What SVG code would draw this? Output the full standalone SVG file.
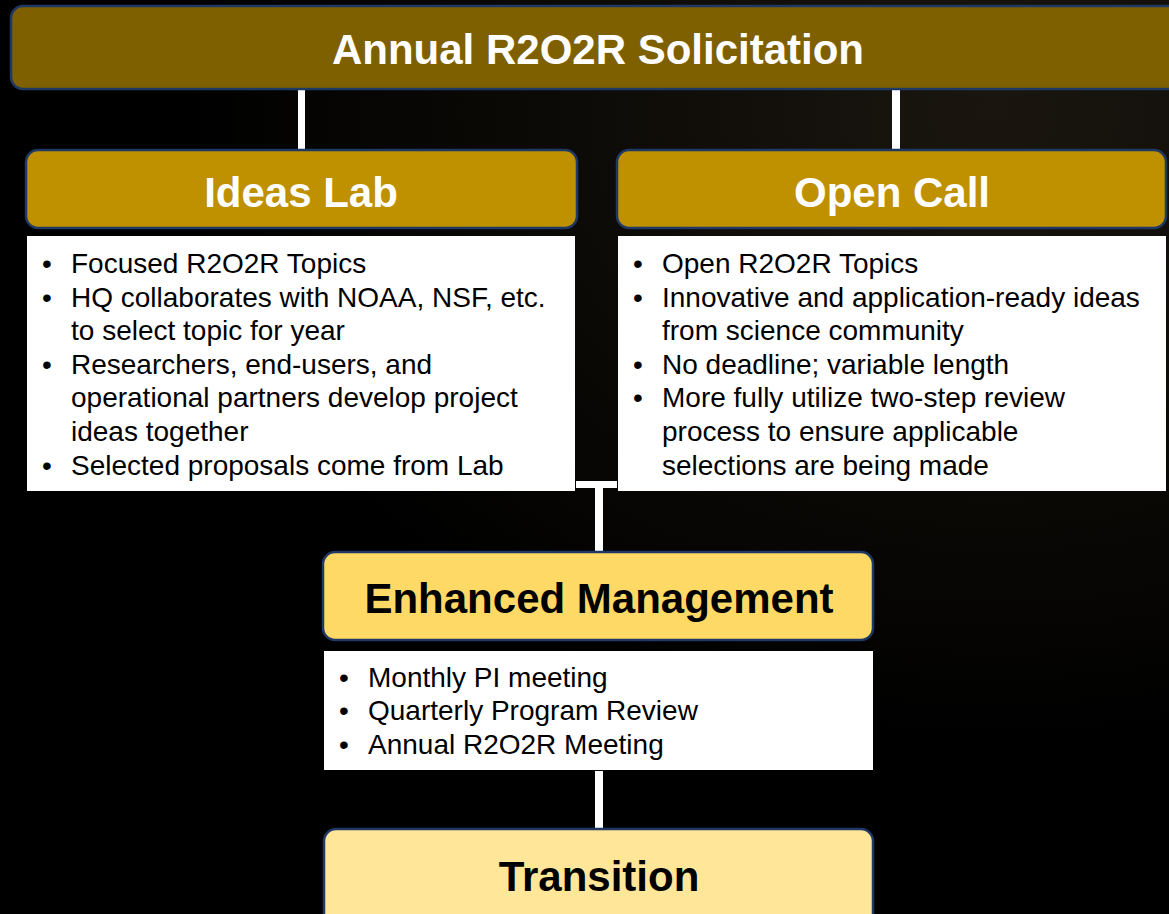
<svg xmlns="http://www.w3.org/2000/svg" width="1169" height="914" viewBox="0 0 1169 914">
<defs>
<radialGradient id="bg" cx="0.85" cy="0.12" r="0.7">
<stop offset="0" stop-color="#1a160f"/>
<stop offset="1" stop-color="#000000"/>
</radialGradient>
<style>
.box{stroke:#1f3864;stroke-width:2.5}
.h{font-family:"Liberation Sans",Arial,sans-serif;font-weight:bold;font-size:42px;text-anchor:middle}
.w{fill:#ffffff}
.k{fill:#000000}
.panel{fill:#ffffff}
.b{font-family:"Liberation Sans",Arial,sans-serif;font-size:28px;fill:#000000}
.con{fill:#ffffff}
</style>
</defs>
<rect x="0" y="0" width="1169" height="914" fill="url(#bg)"/>
<g id="connectors">
<rect class="con" x="298" y="90" width="7" height="59"/>
<rect class="con" x="892" y="90" width="8" height="59"/>
<rect class="con" x="576" y="481" width="41" height="7"/>
<rect class="con" x="595" y="481" width="8" height="71"/>
<rect class="con" x="595" y="771" width="8" height="57"/>
</g>
<g id="solicitation">
<rect class="box" x="11" y="6" width="1180" height="83" rx="12" fill="#7f6000"/>
<text class="h w" x="598" y="64">Annual R2O2R Solicitation</text>
</g>
<g id="ideas-lab">
<rect class="box" x="26" y="150" width="551" height="78" rx="12" fill="#bf9000"/>
<text class="h w" x="301" y="207">Ideas Lab</text>
<rect class="panel" x="27" y="236" width="548" height="255"/>
<text class="b">
<tspan x="42" y="273">•</tspan><tspan x="71" y="273">Focused R2O2R Topics</tspan>
<tspan x="42" y="306.6">•</tspan><tspan x="71" y="306.6">HQ collaborates with NOAA, NSF, etc.</tspan>
<tspan x="71" y="340.2">to select topic for year</tspan>
<tspan x="42" y="373.8">•</tspan><tspan x="71" y="373.8">Researchers, end-users, and</tspan>
<tspan x="71" y="407.4">operational partners develop project</tspan>
<tspan x="71" y="441">ideas together</tspan>
<tspan x="42" y="474.6">•</tspan><tspan x="71" y="474.6">Selected proposals come from Lab</tspan>
</text>
</g>
<g id="open-call">
<rect class="box" x="617" y="150" width="549" height="78" rx="12" fill="#bf9000"/>
<text class="h w" x="892" y="207">Open Call</text>
<rect class="panel" x="618" y="236" width="548" height="255"/>
<text class="b">
<tspan x="633" y="273">•</tspan><tspan x="662" y="273">Open R2O2R Topics</tspan>
<tspan x="633" y="306.6">•</tspan><tspan x="662" y="306.6">Innovative and application-ready ideas</tspan>
<tspan x="662" y="340.2">from science community</tspan>
<tspan x="633" y="373.8">•</tspan><tspan x="662" y="373.8">No deadline; variable length</tspan>
<tspan x="633" y="407.4">•</tspan><tspan x="662" y="407.4">More fully utilize two-step review</tspan>
<tspan x="662" y="441">process to ensure applicable</tspan>
<tspan x="662" y="474.6">selections are being made</tspan>
</text>
</g>
<g id="enhanced-management">
<rect class="box" x="323" y="552" width="550" height="88" rx="12" fill="#ffd966"/>
<text class="h k" x="599" y="613">Enhanced Management</text>
<rect class="panel" x="324" y="651" width="549" height="119"/>
<text class="b">
<tspan x="339" y="687">•</tspan><tspan x="368" y="687">Monthly PI meeting</tspan>
<tspan x="339" y="720.3">•</tspan><tspan x="368" y="720.3">Quarterly Program Review</tspan>
<tspan x="339" y="753.6">•</tspan><tspan x="368" y="753.6">Annual R2O2R Meeting</tspan>
</text>
</g>
<g id="transition">
<rect class="box" x="324" y="829" width="549" height="110" rx="12" fill="#ffe699"/>
<text class="h k" x="599" y="891">Transition</text>
</g>
</svg>
